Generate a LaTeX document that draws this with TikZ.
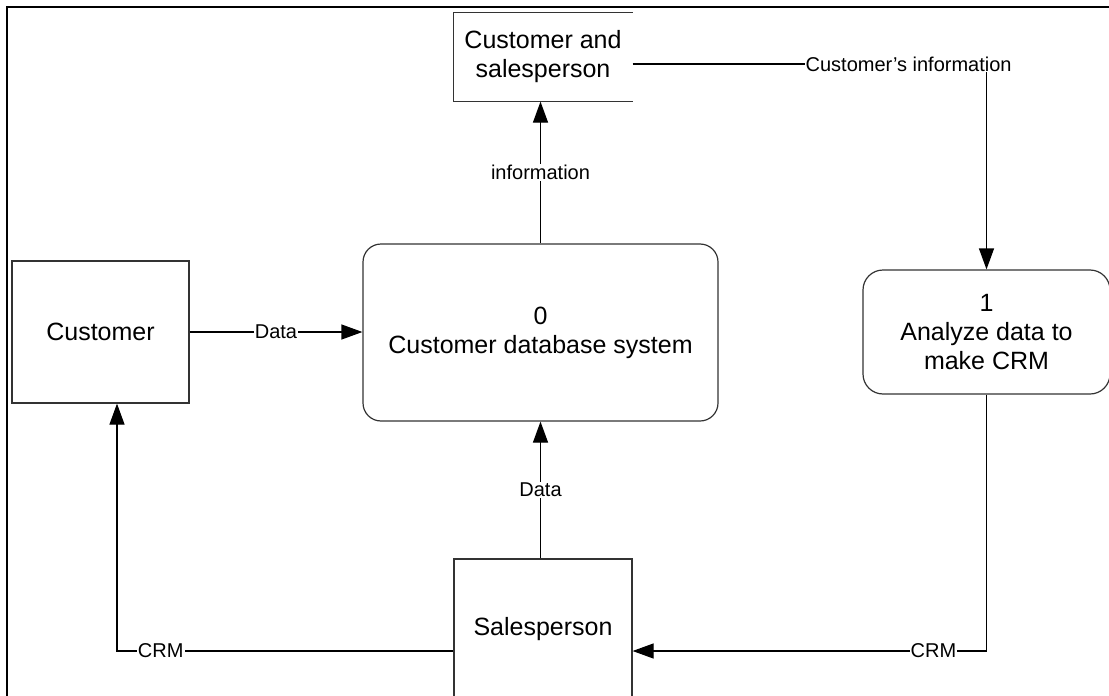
\documentclass[tikz,border=0pt]{standalone}
\usepackage{fontspec}
\setmainfont{Liberation Sans}
\usetikzlibrary{arrows.meta}
\begin{document}
\begin{tikzpicture}[x=1pt,y=-1pt,
  box/.style={draw=black!80,line width=1.2pt,inner sep=0pt,align=center,font=\fontsize{25}{29}\selectfont},
  proc/.style={box,rounded corners=18pt},
  flow/.style={line width=1.2pt,-{Triangle[length=21pt,width=15pt]}},
  lbl/.style={fill=white,inner sep=1pt,font=\fontsize{20}{24}\selectfont}]
\useasboundingbox (0,0) rectangle (1109,696);
\clip (0,0) rectangle (1109,696);
\draw[line width=2.5pt] (7,710) -- (7,7) -- (1120,7);
\node[box,draw=none,minimum width=178pt,minimum height=88pt] (store) at (543,57) {Customer and\\salesperson};
\draw[draw=black!80,line width=1.2pt] (store.north east) -- (store.north west) -- (store.south west) -- (store.south east);
\node[box,minimum width=177pt,minimum height=142pt] (customer) at (100.5,332) {Customer};
\node[proc,minimum width=355pt,minimum height=177pt] (cds) at (540.5,332.5) {0\\Customer database system};
\node[proc,rounded corners=20pt,minimum width=247pt,minimum height=124pt] (analyze) at (986.5,332) {1\\Analyze data to\\make CRM};
\node[box,minimum width=178pt,minimum height=140pt] (sales) at (543,629) {Salesperson};
\coordinate (s1) at ([yshift=-7pt]store.east);
\coordinate (r1) at ([yshift=-22pt]sales.east);
\coordinate (l1) at ([yshift=-22pt]sales.west);
\coordinate (c1) at ([xshift=16.5pt]customer.south);
\draw[flow] (customer.east) -- (customer.east -| cds.west) node[lbl,midway]{Data};
\draw[flow] (cds.north) -- (cds.north |- store.south) node[lbl,midway]{information};
\draw[flow] (s1) -| (analyze.north) node[lbl,pos=0.39]{Customer’s information};
\draw[flow] (analyze.south) |- (r1) node[lbl,pos=0.575]{CRM};
\draw[flow] (l1) -| (c1) node[lbl,pos=0.435]{CRM};
\draw[flow] (sales.north -| cds.south) -- (cds.south) node[lbl,midway]{Data};
\end{tikzpicture}
\end{document}
